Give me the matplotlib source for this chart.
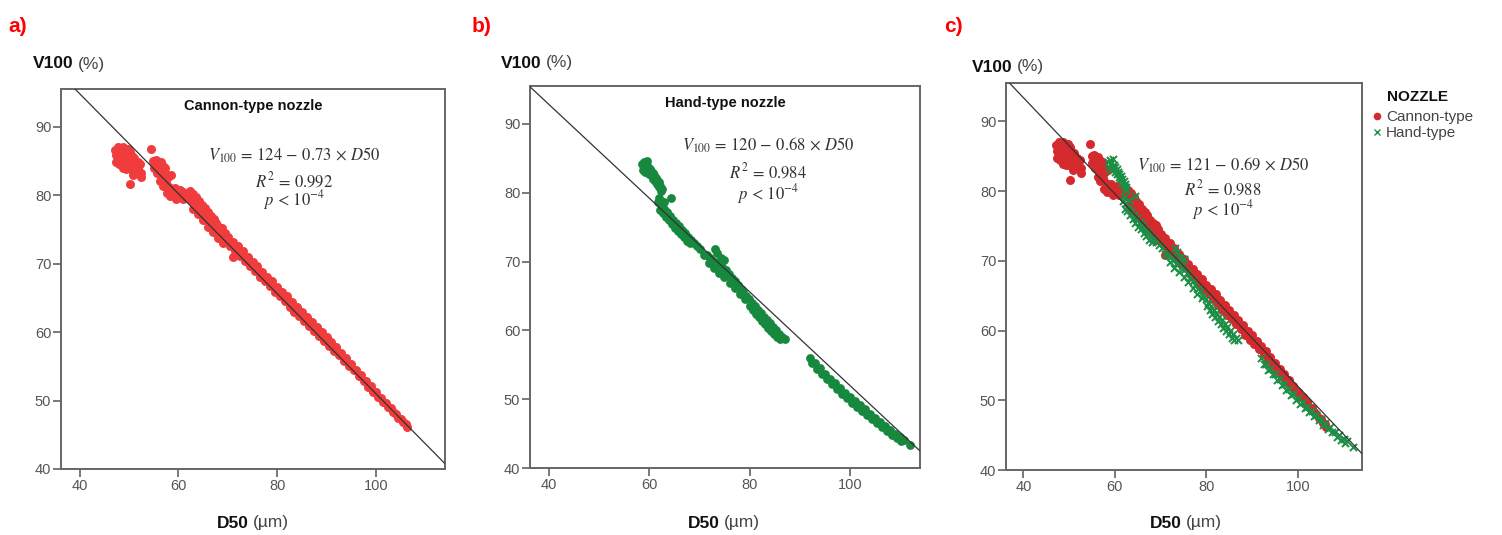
import matplotlib
matplotlib.use("Agg")
import matplotlib.pyplot as plt
from matplotlib.lines import Line2D

plt.rcParams["font.family"] = ["Liberation Sans", "DejaVu Sans"]
plt.rcParams["mathtext.fontset"] = "stix"

# ---- data ---------------------------------------------------------------
# Cannon-type nozzle: D50 (um) and V100 (%)
cannon_d50 = [
    # blob at small D50
    47.2, 47.7, 48.2, 48.7, 49.2, 49.7, 50.2,
    47.4, 47.9, 48.5, 49.0, 49.5, 50.0, 50.5, 51.0,
    47.3, 47.9, 48.4, 48.9, 49.4, 50.0, 50.6, 51.1, 51.7, 52.3,
    48.7, 49.3, 49.9, 50.5, 51.2, 51.9, 52.5,
    50.8, 51.5, 52.5, 50.1,
    # 54-62
    54.5, 54.9, 55.4, 55.9, 56.4, 56.9, 57.3,
    55.1, 55.6, 56.1, 56.6, 57.2, 57.8, 58.5,
    56.2, 56.8, 57.4, 58.0, 58.6, 59.2, 59.8, 60.4, 61.0, 61.6,
    57.6, 58.3, 59.0, 59.6, 60.3, 61.0, 61.7,
    # 62-70
    62.3, 62.9, 63.5, 64.1, 64.7, 65.3, 65.9, 66.5, 67.1, 67.7, 68.3, 68.9, 69.5,
    62.6, 63.2, 63.8, 64.4, 65.0, 65.6, 66.2, 66.8, 67.4, 68.0, 68.6, 69.2, 69.8,
    63.0, 64.0, 65.0, 66.0, 67.0, 68.0, 69.0, 71.0,
    # 70-106, upper row
    70, 71, 72, 73, 74, 75, 76, 77, 78, 79, 80, 81, 82, 83, 84, 85, 86, 87, 88,
    89, 90, 91, 92, 93, 94, 95, 96, 97, 98, 99, 100, 101, 102, 103, 104, 105, 106,
    # 70-106, lower row
    70.5, 71.5, 72.5, 73.5, 74.5, 75.5, 76.5, 77.5, 78.5, 79.5, 80.5, 81.5, 82.5,
    83.5, 84.5, 85.5, 86.5, 87.5, 88.5, 89.5, 90.5, 91.5, 92.5, 93.5, 94.5, 95.5,
    96.5, 97.5, 98.5, 99.5, 100.5, 101.5, 102.5, 103.5, 104.5, 105.5, 106.2,
]
cannon_v100 = [
    86.6, 87.0, 86.8, 87.0, 86.7, 86.7, 86.3,
    85.8, 85.6, 85.9, 85.6, 85.8, 85.5, 85.7, 85.4,
    84.8, 84.5, 84.9, 84.6, 84.9, 84.5, 84.7, 84.6, 84.8, 84.5,
    83.9, 83.8, 84.0, 83.6, 83.8, 84.0, 83.3,
    83.0, 83.3, 82.6, 81.6,
    86.7, 85.0, 85.2, 84.7, 84.9, 84.3, 83.9,
    84.0, 83.3, 83.8, 82.8, 83.2, 82.7, 83.0,
    82.0, 81.4, 81.9, 81.2, 80.8, 81.0, 80.6, 80.8, 80.4, 80.2,
    80.3, 79.8, 80.1, 79.5, 79.7, 79.4, 79.8,
    80.6, 80.1, 79.7, 79.2, 78.6, 78.1, 77.5, 77.0, 76.5, 75.9, 75.4, 75.2, 74.5,
    79.3, 78.8, 78.4, 77.9, 77.4, 76.9, 76.4, 75.9, 75.4, 74.8, 74.3, 73.7, 73.2,
    78.0, 77.2, 76.3, 75.4, 74.6, 73.8, 73.0, 70.9,
    73.9, 73.2, 72.5, 71.8, 71.0, 70.3, 69.6, 68.8, 68.1, 67.4, 66.6, 65.9, 65.2,
    64.4, 63.7, 63.0, 62.2, 61.5, 60.8, 60.0, 59.3, 58.5, 57.8, 57.0, 56.2, 55.3,
    54.5, 53.7, 52.9, 52.1, 51.2, 50.4, 49.7, 48.9, 48.1, 47.3, 46.6,
    72.5, 71.8, 71.1, 70.4, 69.6, 68.9, 68.1, 67.4, 66.7, 65.9, 65.2, 64.5, 63.7,
    63.0, 62.3, 61.6, 60.9, 60.2, 59.4, 58.7, 58.0, 57.3, 56.6, 55.8, 55.1, 54.4,
    53.6, 52.8, 52.0, 51.3, 50.5, 49.8, 49.0, 48.3, 47.5, 46.8, 46.2,
]

# Hand-type nozzle
hand_d50 = [
    # 58.5-63
    58.6, 58.9, 59.2, 59.5, 59.8, 60.1, 60.4, 60.7, 61.0, 61.3, 61.6, 61.9, 62.2, 62.5,
    58.8, 59.2, 59.6, 60.0, 60.4, 60.8, 61.2, 61.6, 62.0, 62.4, 64.3,
    # 62-70
    61.8, 62.4, 63.0, 63.6, 64.2, 64.8, 65.4, 66.0, 66.6, 67.2, 67.8, 68.4, 69.0, 69.6, 70.2,
    62.1, 62.7, 63.3, 63.9, 64.5, 65.1, 65.7, 66.3, 66.9, 67.5, 68.1, 62.0, 63.0,
    # 71-79
    71.0, 71.6, 72.2, 72.8, 73.2, 73.6, 73.4, 74.0, 74.6, 75.2, 75.8, 76.4, 77.0,
    77.6, 78.2, 74.3, 75.0,
    72.0, 73.0, 74.0, 75.0, 76.0, 77.0, 78.0, 79.0,
    # 79-87
    78.6, 79.2, 79.8, 80.4, 81.0, 81.6, 82.2, 82.8, 83.4, 84.0, 84.6, 85.2, 85.8, 86.4, 87.0,
    80.1, 80.7, 81.3, 81.9, 82.5, 83.1, 83.7, 84.3, 84.9, 85.5, 86.1,
    # 92-112
    92, 93, 94, 95, 96, 97, 98, 99, 100, 101, 102, 103, 104, 105, 106, 107, 108,
    109, 110, 110.8,
    92.5, 93.5, 94.5, 95.5, 96.5, 97.5, 98.5, 99.5, 100.5, 101.5, 102.5, 103.5,
    104.5, 105.5, 106.5, 107.5, 108.5, 109.5, 110.3, 112.0,
]
hand_v100 = [
    84.2, 84.5, 84.0, 84.6, 83.8, 83.5, 83.2, 82.8, 82.5, 82.2, 81.8, 81.5, 81.0, 80.6,
    83.3, 83.0, 83.3, 82.7, 82.5, 82.0, 81.7, 81.2, 80.8, 80.2, 79.3,
    78.6, 78.3, 77.6, 77.2, 76.6, 76.1, 75.6, 75.1, 74.6, 74.1, 73.6, 73.1, 72.7, 72.2, 71.8,
    77.5, 77.1, 76.5, 76.0, 75.4, 74.9, 74.5, 74.0, 73.5, 73.0, 72.7, 79.2, 78.7,
    71.0, 70.9, 70.5, 70.1, 71.8, 71.3, 69.6, 69.8, 69.2, 68.7, 68.2, 67.6, 67.1,
    66.6, 66.0, 70.5, 70.2,
    69.8, 69.0, 68.4, 67.7, 66.9, 66.1, 65.3, 64.6,
    65.6, 65.0, 64.5, 64.0, 63.5, 63.0, 62.5, 62.0, 61.5, 61.0, 60.5, 60.0, 59.5, 59.0, 58.7,
    63.5, 63.0, 62.4, 61.9, 61.4, 60.9, 60.4, 59.9, 59.5, 59.0, 58.7,
    56.0, 55.2, 54.5, 53.7, 53.0, 52.3, 51.6, 50.9, 50.3, 49.7, 49.1, 48.5, 47.9,
    47.3, 46.7, 46.1, 45.5, 45.0, 44.5, 44.1,
    55.2, 54.4, 53.7, 52.9, 52.2, 51.5, 50.8, 50.1, 49.5, 48.9, 48.3, 47.7,
    47.1, 46.5, 45.9, 45.4, 44.8, 44.3, 43.9, 43.3,
]

# fitted lines: intercept, slope
fit_cannon = (124, -0.73)
fit_hand = (120, -0.68)
fit_all = (121, -0.69)

panel_titles = ["Cannon-type nozzle", "Hand-type nozzle", None]
equations = [
    (r"$V_{100}\,=\,124\,-\,0.73\,\times\,D50$", r"$R^2\,=\,0.992$", r"$p\,<\,10^{-4}$"),
    (r"$V_{100}\,=\,120\,-\,0.68\,\times\,D50$", r"$R^2\,=\,0.984$", r"$p\,<\,10^{-4}$"),
    (r"$V_{100}\,=\,121\,-\,0.69\,\times\,D50$", r"$R^2\,=\,0.988$", r"$p\,<\,10^{-4}$"),
]
panel_tags = ["a)", "b)", "c)"]
x_ticks = [40, 60, 80, 100]
y_ticks = [40, 50, 60, 70, 80, 90]

W, H = 1502, 535
fig = plt.figure(figsize=(W / 100, H / 100), dpi=100)


def fx(px):
    return px / W


def fy(py):
    return 1 - py / H


# axes boxes in pixels: left, top, right, bottom
boxes = [(61, 89, 445, 469), (530, 86, 920, 468), (1006, 83, 1362, 470)]
eq_pos = [(0.607, (0.826, 0.760, 0.708)),
          (0.610, (0.846, 0.777, 0.717)),
          (0.610, (0.788, 0.729, 0.672))]
ylab_x = [33, 501, 972]
ylab_y = [64, 63, 67]
xlab_x = [217, 688, 1150]
tag_x = [8, 472, 944]
fits = [fit_cannon, fit_hand, fit_all]

axes = []
for i, (l, t, r, b) in enumerate(boxes):
    ax = fig.add_axes([fx(l), fy(b), fx(r - l), (b - t) / H])
    axes.append(ax)
    ax.set_xlim(36.2, 114)
    ax.set_ylim(40, 95.5)
    ax.set_xticks(x_ticks)
    ax.set_yticks(y_ticks)
    ax.tick_params(direction="out", length=6, width=1.1, color="#555555",
                   labelcolor="#555555", labelsize=10.5, pad=1)
    for s in ax.spines.values():
        s.set_color("#666666")
        s.set_linewidth(1.4)

    a0, a1 = fits[i]
    xs = [36.2, 114]
    ax.plot(xs, [a0 + a1 * x for x in xs], color="#333333", lw=0.9, zorder=5)

    if panel_titles[i]:
        ax.text(0.5, 0.955, panel_titles[i], transform=ax.transAxes, ha="center",
                va="center", fontsize=10.5, fontweight="bold", color="#111111")
    ex, eys = eq_pos[i]
    for txt, ey in zip(equations[i], eys):
        ax.text(ex, ey, txt, transform=ax.transAxes, ha="center", va="center",
                fontsize=12, color="#333333")

    # axis titles: bold variable followed by regular unit
    t1 = fig.text(fx(ylab_x[i]), fy(ylab_y[i]), "V100", fontsize=12.5,
                  fontweight="bold", va="center", ha="left", color="#111111")
    ax.annotate("(%)", xy=(1, 0), xycoords=t1, xytext=(3, 0),
                textcoords="offset points", va="bottom", ha="left",
                fontsize=12.5, color="#444444", annotation_clip=False)
    t2 = fig.text(fx(xlab_x[i]), fy(523), "D50", fontsize=12.5,
                  fontweight="bold", va="center", ha="left", color="#111111")
    ax.annotate("(µm)", xy=(1, 0), xycoords=t2, xytext=(3, 0),
                textcoords="offset points", va="bottom", ha="left",
                fontsize=12.5, color="#444444", annotation_clip=False)
    fig.text(fx(tag_x[i]), fy(27), panel_tags[i], fontsize=15, fontweight="bold",
             color="#ff0000", va="center", ha="left")

axes[0].scatter(cannon_d50, cannon_v100, s=42, color="#f03c3c", linewidths=0, zorder=3)
axes[1].scatter(hand_d50, hand_v100, s=40, color="#17893f", linewidths=0, zorder=3)
axes[2].scatter(cannon_d50, cannon_v100, s=42, color="#d42a2e", linewidths=0, zorder=3)
axes[2].scatter(hand_d50, hand_v100, s=26, color="#1a8f45", marker="x",
                linewidths=1.4, zorder=4)

# legend for panel c, title drawn separately so its gap can be set
fig.text(fx(1418), fy(97), "NOZZLE", fontsize=11, fontweight="bold",
         ha="center", va="center", color="#111111")
handles = [
    Line2D([], [], ls="none", marker="o", ms=5.5, color="#d42a2e", mec="none"),
    Line2D([], [], ls="none", marker="x", ms=4, color="#1a8f45", mew=1.0),
]
leg = fig.legend(handles, ["Cannon-type", "Hand-type"],
                 loc="upper left", bbox_to_anchor=(fx(1369), fy(107)), frameon=False,
                 fontsize=11, handlelength=0.6, handletextpad=0.3,
                 labelspacing=0.15, borderpad=0.2, borderaxespad=0)
for txt in leg.get_texts():
    txt.set_color("#444444")

fig.savefig("out.png", dpi=100, facecolor="white")
